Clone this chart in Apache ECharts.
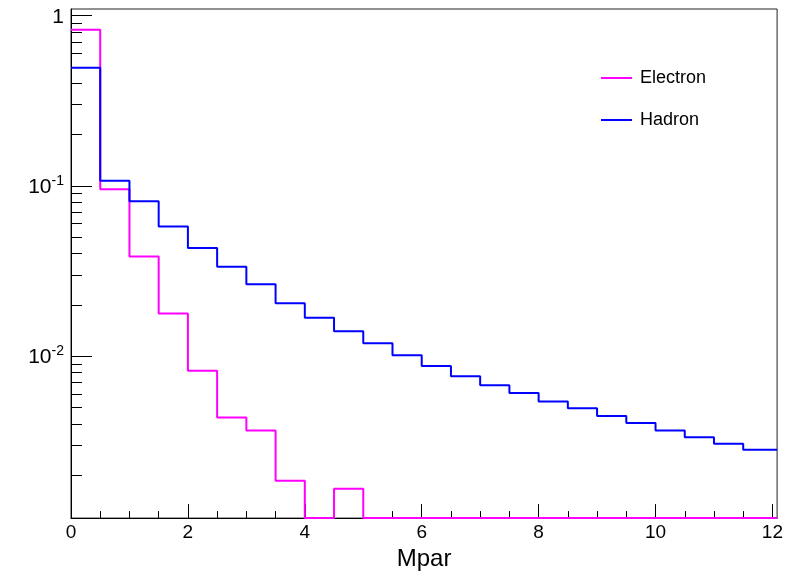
<!DOCTYPE html>
<html>
<head>
<meta charset="utf-8">
<title>Mpar</title>
<script src="https://cdn.jsdelivr.net/npm/echarts@6/dist/echarts.min.js"></script>
<style>
  html, body { margin: 0; padding: 0; background: #fff; }
  #chart { width: 786px; height: 576px; }
</style>
</head>
<body>
<div id="chart"></div>
<script>
// Histogram bin lower edges (bin width 0.5)
const binEdges = [0, 0.5, 1, 1.5, 2, 2.5, 3, 3.5, 4, 4.5, 5, 5.5,
                  6, 6.5, 7, 7.5, 8, 8.5, 9, 9.5, 10, 10.5, 11, 11.5];

// Normalised Mpar distributions
const electron = [0.826, 0.0955, 0.0384, 0.0178, 0.0082, 0.00435, 0.00365, 0.00185,
                  0, 0.00166, 0, 0, 0, 0, 0, 0, 0, 0, 0, 0, 0, 0, 0, 0];
const hadron = [0.494, 0.107, 0.0813, 0.0577, 0.0432, 0.0335, 0.0264, 0.0204,
                0.0168, 0.0140, 0.0119, 0.0101, 0.00874, 0.0076, 0.00673, 0.00607,
                0.0054, 0.00494, 0.00445, 0.00405, 0.00365, 0.00333, 0.00305, 0.00282];

const seriesNames = ['Electron', 'Hadron'];

// Axis ranges and ticks
const xMin = 0, xMax = 12.08;
const yMin = 0.001117, yMax = 1.094;
const xMajorTicks = [0, 2, 4, 6, 8, 10, 12];
const xMinorTicks = [0.5, 1, 1.5, 2.5, 3, 3.5, 4.5, 5, 5.5, 6.5, 7, 7.5,
                     8.5, 9, 9.5, 10.5, 11, 11.5];
const yMajorTicks = [0.01, 0.1, 1];
const yMajorLabels = ['{b|10}{s|-2}', '{b|10}{s|-1}', '{b|1}'];
const yMinorTicks = [0.002, 0.003, 0.004, 0.005, 0.006, 0.007, 0.008, 0.009,
                     0.02, 0.03, 0.04, 0.05, 0.06, 0.07, 0.08, 0.09,
                     0.2, 0.3, 0.4, 0.5, 0.6, 0.7, 0.8, 0.9];

const FONT = '"Liberation Sans", Arial, Helvetica, sans-serif';

// Turn bin contents into step-line points; empty bins sit on the axis floor
function histPoints(values) {
  const pts = values.map((v, i) => [binEdges[i], Math.max(v, yMin)]);
  pts.push([xMax, Math.max(values[values.length - 1], yMin)]);
  return pts;
}

const chart = echarts.init(document.getElementById('chart'), null, { renderer: 'canvas' });

chart.setOption({
  animation: false,
  backgroundColor: '#ffffff',
  textStyle: { fontFamily: FONT },
  grid: {
    left: 71, right: 5, top: 9, bottom: 57,
    show: true, borderColor: '#222', borderWidth: 1, backgroundColor: 'transparent'
  },
  legend: {
    orient: 'vertical',
    left: 601, top: 68, padding: 0,
    icon: 'rect',
    itemWidth: 31, itemHeight: 2, itemGap: 22,
    textStyle: { fontSize: 18, color: '#000', lineHeight: 20, fontFamily: FONT, padding: [0, 0, 0, 3] },
    data: seriesNames
  },
  xAxis: [
    {
      type: 'value', min: xMin, max: xMax, position: 'bottom',
      axisLine: { show: true, lineStyle: { color: '#000', width: 1 } },
      axisTick: { show: true, inside: true, length: 14, customValues: xMajorTicks,
                  lineStyle: { color: '#000', width: 1 } },
      axisLabel: { show: true, customValues: xMajorTicks, fontSize: 19, color: '#000',
                   margin: 5, fontFamily: FONT },
      splitLine: { show: false },
      name: 'Mpar', nameLocation: 'middle', nameGap: 28,
      nameTextStyle: { fontSize: 24, color: '#000', fontFamily: FONT }
    },
    {
      type: 'value', min: xMin, max: xMax, position: 'bottom',
      axisLine: { show: false },
      axisTick: { show: true, inside: true, length: 7, customValues: xMinorTicks,
                  lineStyle: { color: '#000', width: 1 } },
      axisLabel: { show: false },
      splitLine: { show: false }
    }
  ],
  yAxis: [
    {
      type: 'log', logBase: 10, min: yMin, max: yMax, position: 'left',
      axisLine: { show: true, lineStyle: { color: '#000', width: 1 } },
      axisTick: { show: true, inside: true, length: 21, customValues: yMajorTicks,
                  lineStyle: { color: '#000', width: 1 } },
      axisLabel: {
        show: true, customValues: yMajorTicks, margin: 7, color: '#000',
        formatter: function (v) {
          const i = yMajorTicks.findIndex(t => Math.abs(t - v) / t < 1e-6);
          return i >= 0 ? yMajorLabels[i] : '';
        },
        rich: {
          b: { fontSize: 21, color: '#000', fontFamily: FONT, verticalAlign: 'bottom', lineHeight: 24 },
          s: { fontSize: 14, color: '#000', fontFamily: FONT, verticalAlign: 'top', lineHeight: 24 }
        }
      },
      splitLine: { show: false }
    },
    {
      type: 'log', logBase: 10, min: yMin, max: yMax, position: 'left',
      axisLine: { show: false },
      axisTick: { show: true, inside: true, length: 11, customValues: yMinorTicks,
                  lineStyle: { color: '#000', width: 1 } },
      axisLabel: { show: false },
      splitLine: { show: false }
    }
  ],
  series: [
    {
      name: seriesNames[0], type: 'line', step: 'end',
      xAxisIndex: 0, yAxisIndex: 0,
      symbol: 'none', showSymbol: false, clip: false, z: 3,
      lineStyle: { color: '#ff00ff', width: 2 },
      itemStyle: { color: '#ff00ff' },
      data: histPoints(electron)
    },
    {
      name: seriesNames[1], type: 'line', step: 'end',
      xAxisIndex: 0, yAxisIndex: 0,
      symbol: 'none', showSymbol: false, clip: false, z: 4,
      lineStyle: { color: '#0000ff', width: 2 },
      itemStyle: { color: '#0000ff' },
      data: histPoints(hadron)
    }
  ]
});
</script>
</body>
</html>
